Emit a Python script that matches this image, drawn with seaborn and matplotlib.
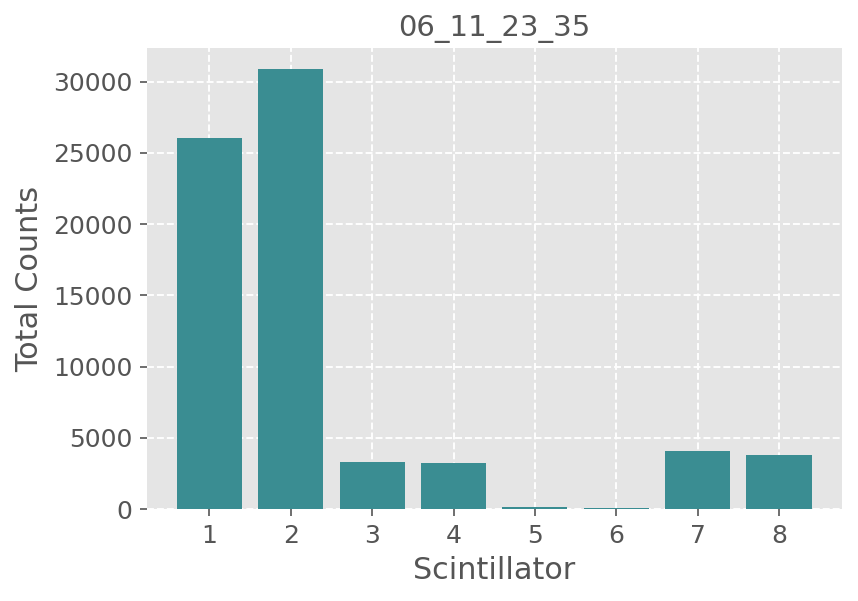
import matplotlib
matplotlib.use('Agg')
import matplotlib.pyplot as plt
import seaborn as sns
import pandas as pd

# Total counts per scintillator
scintillators = ['1', '2', '3', '4', '5', '6', '7', '8']
counts = [26070, 30850, 3330, 3260, 150, 70, 4050, 3760]
title = '06_11_23_35'

plt.style.use('ggplot')
plt.rcParams['font.family'] = ['DejaVu Sans']

df = pd.DataFrame({'Scintillator': scintillators, 'Total Counts': counts})

fig, ax = plt.subplots(figsize=(5.72, 4.007), dpi=150)
fig.subplots_adjust(left=0.171, right=0.981, top=0.920, bottom=0.153)

sns.barplot(data=df, x='Scintillator', y='Total Counts', color='#3A8D92',
            saturation=1, width=0.8, ax=ax)

ax.set_xlim(-0.77, 7.77)
ax.set_ylim(0, 32350)
ax.set_yticks([0, 5000, 10000, 15000, 20000, 25000, 30000])
ax.grid(True, color='white', linestyle='--', linewidth=0.9)
ax.set_axisbelow(True)
for s in ax.spines.values():
    s.set_visible(False)

ax.set_title(title, fontsize=14, color='#555555')
ax.set_xlabel('Scintillator', fontsize=14.5, color='#555555')
ax.set_ylabel('Total Counts', fontsize=14.5, color='#555555')
ax.tick_params(axis='both', labelsize=12, colors='#555555')

fig.savefig('out.png', dpi=150)
